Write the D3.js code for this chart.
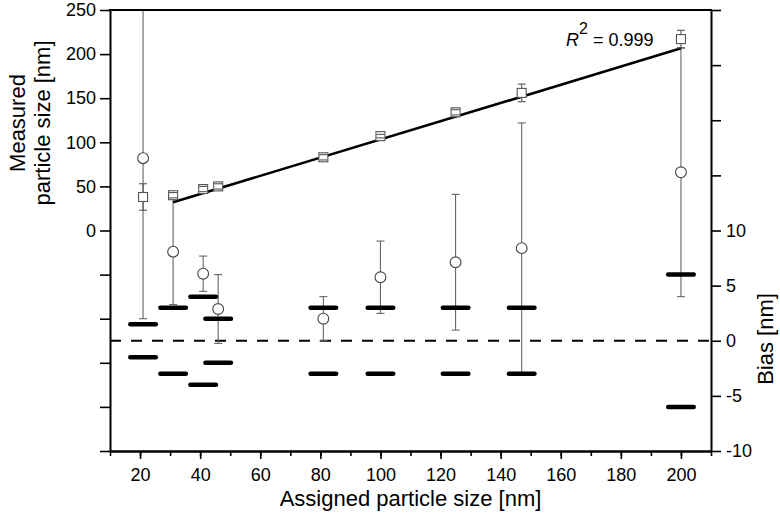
<!DOCTYPE html>
<html>
<head>
<meta charset="utf-8">
<script src="https://cdn.jsdelivr.net/npm/d3@7"></script>
<style>
  body { margin: 0; background: #fff; }
  text { font-family: "Liberation Sans", Arial, sans-serif; }
</style>
</head>
<body>
<script>
// assigned sizes (nm)
const sizes = [21, 31, 41, 46, 81, 100, 125, 147, 200];
// squares: measured size, left axis
const squareVals = [38, 40, 47, 50, 83, 107, 134, 156, 217];
const squareErr = [15, 3, 3, 3, 3, 2, 3, 10, 10];
// circles: bias, left axis scale
const circleVals = [82, -24, -49, -89, -100, -53, -36, -20, 66];
const circleErr = [182, 60, 20, 39, 25, 41, 77, 142, 141];
// thick bars: +/- bias limits, right axis
const biasLimits = [1.5, 3, 4, 2, 3, 3, 3, 3, 6];
// linear fit of squares
const fitLine = [[31, 32], [200, 206.5]];
const rSquared = '0.999';

const xTicks = [20, 40, 60, 80, 100, 120, 140, 160, 180, 200];
const xMinor = d3.range(10, 211, 10);
const leftTicks = d3.range(-250, 251, 50);
const rightTicks = d3.range(-10, 31, 5);

const width = 780, height = 521;
const padL = 110, padR = 711, padT = 10, padB = 451;

const svg = d3.select(document.body).append('svg')
  .attr('width', width)
  .attr('height', height);

const x = d3.scaleLinear().domain([10, 210]).range([padL, padR]);
const yL = d3.scaleLinear().domain([-250, 250]).range([padB, padT]);
const yR = d3.scaleLinear().domain([-10, 30]).range([padB, padT]);

svg.append('clipPath').attr('id', 'plot')
  .append('rect')
  .attr('x', padL).attr('y', padT)
  .attr('width', padR - padL).attr('height', padB - padT);

const plot = svg.append('g').attr('clip-path', 'url(#plot)');

let rows = sizes.map((s, i) => ({
  size: s,
  sq: squareVals[i], sqErr: squareErr[i],
  c: circleVals[i], cErr: circleErr[i],
  bias: biasLimits[i]
}));

// zero bias line
plot.append('line')
  .attr('x1', padL).attr('x2', padR)
  .attr('y1', yR(0)).attr('y2', yR(0))
  .attr('stroke', '#000')
  .attr('stroke-width', 2.2)
  .attr('stroke-dasharray', '11,10');

// circle error bars
const capW = 4;
let cErr = plot.append('g')
  .attr('stroke', '#666')
  .attr('stroke-width', 1.1);
for (let d of rows) {
  let cx = x(d.size);
  cErr.append('line')
    .attr('x1', cx).attr('x2', cx)
    .attr('y1', yL(d.c + d.cErr)).attr('y2', yL(d.c - d.cErr));
  for (let v of [d.c + d.cErr, d.c - d.cErr]) {
    cErr.append('line')
      .attr('x1', cx - capW).attr('x2', cx + capW)
      .attr('y1', yL(v)).attr('y2', yL(v));
  }
}

// fit line
plot.append('line')
  .attr('x1', x(fitLine[0][0])).attr('y1', yL(fitLine[0][1]))
  .attr('x2', x(fitLine[1][0])).attr('y2', yL(fitLine[1][1]))
  .attr('stroke', '#000')
  .attr('stroke-width', 2.6);

// squares
const half = 4.5;
plot.selectAll('rect.sq')
  .data(rows)
  .join('rect')
    .attr('class', 'sq')
    .attr('x', d => x(d.size) - half)
    .attr('y', d => yL(d.sq) - half)
    .attr('width', half * 2)
    .attr('height', half * 2)
    .attr('fill', '#fff')
    .attr('stroke', '#555')
    .attr('stroke-width', 1.1);

// square error bars (line outside the symbol, caps always)
let sErr = plot.append('g')
  .attr('stroke', '#555')
  .attr('stroke-width', 1.1);
for (let d of rows) {
  let cx = x(d.size);
  let yt = yL(d.sq + d.sqErr), yb = yL(d.sq - d.sqErr), yc = yL(d.sq);
  if (yc - yt > half) {
    sErr.append('line').attr('x1', cx).attr('x2', cx).attr('y1', yt).attr('y2', yc - half);
    sErr.append('line').attr('x1', cx).attr('x2', cx).attr('y1', yc + half).attr('y2', yb);
  }
  for (let yy of [yt, yb]) {
    sErr.append('line')
      .attr('x1', cx - capW).attr('x2', cx + capW)
      .attr('y1', yy).attr('y2', yy);
  }
}

// circles
plot.selectAll('circle')
  .data(rows)
  .join('circle')
    .attr('cx', d => x(d.size))
    .attr('cy', d => yL(d.c))
    .attr('r', 5.4)
    .attr('fill', '#fff')
    .attr('stroke', '#444')
    .attr('stroke-width', 1.1);

// bias limit bars
const barHalf = 4.25;
for (let sign of [1, -1]) {
  plot.selectAll('line.bias' + (sign > 0 ? 'p' : 'n'))
    .data(rows)
    .join('line')
      .attr('class', 'bias' + (sign > 0 ? 'p' : 'n'))
      .attr('x1', d => x(d.size - barHalf))
      .attr('x2', d => x(d.size + barHalf))
      .attr('y1', d => yR(sign * d.bias))
      .attr('y2', d => yR(sign * d.bias))
      .attr('stroke', '#000')
      .attr('stroke-width', 4.5)
      .attr('stroke-linecap', 'round');
}

// axes
const tickFont = '18px';
let gL = svg.append('g')
  .attr('transform', `translate(${padL},0)`)
  .call(d3.axisLeft(yL).tickValues(leftTicks)
    .tickFormat(d => d >= 0 ? d : '')
    .tickSize(10).tickSizeOuter(0).tickPadding(4));

let gR = svg.append('g')
  .attr('transform', `translate(${padR},0)`)
  .call(d3.axisRight(yR).tickValues(rightTicks)
    .tickFormat(d => d <= 10 ? d : '')
    .tickSize(10).tickSizeOuter(0).tickPadding(5));

let gMinor = svg.append('g')
  .attr('transform', `translate(0,${padB})`)
  .call(d3.axisBottom(x).tickValues(xMinor)
    .tickFormat('').tickSize(5).tickSizeOuter(0));

let gB = svg.append('g')
  .attr('transform', `translate(0,${padB})`)
  .call(d3.axisBottom(x).tickValues(xTicks)
    .tickSize(8).tickSizeOuter(0).tickPadding(9));

for (let g of [gL, gR, gMinor, gB]) {
  g.select('.domain').attr('stroke-width', 2);
  g.selectAll('.tick line').attr('stroke-width', 1.6);
  g.selectAll('text')
    .style('font-size', tickFont)
    .style('font-family', '"Liberation Sans", Arial, sans-serif')
    .attr('fill', '#000');
}

// top frame
svg.append('line')
  .attr('x1', padL - 1).attr('x2', padR + 1)
  .attr('y1', padT).attr('y2', padT)
  .attr('stroke', '#000')
  .attr('stroke-width', 2);

// R squared label
let r2 = svg.append('text')
  .attr('x', 566).attr('y', 46)
  .style('font-size', '18px');
r2.append('tspan').style('font-style', 'italic').text('R');
r2.append('tspan').attr('dy', -12).style('font-size', '16px').text('2');
r2.append('tspan').attr('dy', 12).text(' = ' + rSquared);

// axis titles
const titleFont = '22px';
let lt = svg.append('text')
  .attr('transform', 'translate(30,123) rotate(-90)')
  .attr('text-anchor', 'middle')
  .style('font-size', titleFont);
lt.append('tspan').attr('x', 0).attr('dy', '-0.25em').text('Measured');
lt.append('tspan').attr('x', 0).attr('dy', '1.15em').text('particle size [nm]');

svg.append('text')
  .attr('x', (padL + padR) / 2)
  .attr('y', 506)
  .attr('text-anchor', 'middle')
  .style('font-size', titleFont)
  .text('Assigned particle size [nm]');

svg.append('text')
  .attr('transform', 'translate(773,339) rotate(-90)')
  .attr('text-anchor', 'middle')
  .style('font-size', titleFont)
  .text('Bias [nm]');
</script>
</body>
</html>
